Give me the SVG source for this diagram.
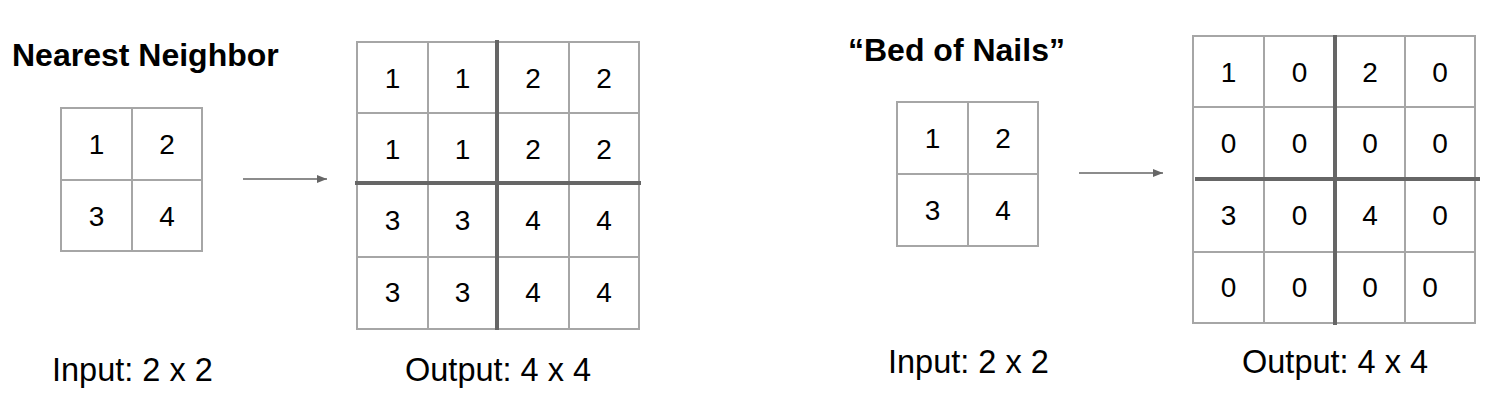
<svg xmlns="http://www.w3.org/2000/svg" width="1490" height="402" viewBox="0 0 1490 402">
<style>
.title{font-family:"Liberation Sans",Arial,sans-serif;font-weight:bold;font-size:32px;fill:#000}
.lbl{font-family:"Liberation Sans",Arial,sans-serif;font-size:32.5px;fill:#000}
.num{font-family:"Liberation Sans",Arial,sans-serif;font-size:28px;fill:#000;text-anchor:middle}
.cell{fill:#fff;stroke:#a6a6a6;stroke-width:2}
.thin{stroke:#a6a6a6;stroke-width:2}
.thick{stroke:#666;stroke-width:4}
.arrow{stroke:#666;stroke-width:1.6;fill:none}
</style>
<defs>
<marker id="ah" viewBox="0 0 10 8" refX="10" refY="4" markerWidth="10" markerHeight="8" markerUnits="userSpaceOnUse" orient="auto">
<path d="M0,0 L10,4 L0,8 Z" fill="#666"/>
</marker>
</defs>
<rect width="1490" height="402" fill="#fff"/>

<g id="title-nn"><text class="title" x="12" y="66">Nearest Neighbor</text></g>
<g id="title-bon"><text class="title" x="848" y="61">“Bed of Nails”</text></g>

<g id="input-nn">
<rect class="cell" x="61" y="108" width="141" height="143"/>
<line class="thin" x1="132" y1="108" x2="132" y2="251"/>
<line class="thin" x1="61" y1="180" x2="202" y2="180"/>
<text class="num" x="96.5" y="154">1</text><text class="num" x="167" y="154">2</text>
<text class="num" x="96.5" y="226">3</text><text class="num" x="167" y="226">4</text>
</g>

<g id="output-nn">
<rect class="cell" x="357" y="42" width="282" height="287"/>
<line class="thin" x1="428" y1="42" x2="428" y2="329"/>
<line class="thin" x1="569" y1="42" x2="569" y2="329"/>
<line class="thin" x1="357" y1="113" x2="639" y2="113"/>
<line class="thin" x1="357" y1="257" x2="639" y2="257"/>
<line class="thick" x1="497" y1="40" x2="497" y2="330"/>
<line class="thick" x1="355" y1="183" x2="641" y2="183"/>
<text class="num" x="392.5" y="88">1</text><text class="num" x="462.5" y="88">1</text><text class="num" x="533" y="88">2</text><text class="num" x="604" y="88">2</text>
<text class="num" x="392.5" y="159">1</text><text class="num" x="462.5" y="159">1</text><text class="num" x="533" y="159">2</text><text class="num" x="604" y="159">2</text>
<text class="num" x="392.5" y="230">3</text><text class="num" x="462.5" y="230">3</text><text class="num" x="533" y="230">4</text><text class="num" x="604" y="230">4</text>
<text class="num" x="392.5" y="302">3</text><text class="num" x="462.5" y="302">3</text><text class="num" x="533" y="302">4</text><text class="num" x="604" y="302">4</text>
</g>

<g id="input-bon">
<rect class="cell" x="897" y="102" width="141" height="144"/>
<line class="thin" x1="968" y1="102" x2="968" y2="246"/>
<line class="thin" x1="897" y1="174" x2="1038" y2="174"/>
<text class="num" x="932.5" y="148">1</text><text class="num" x="1003" y="148">2</text>
<text class="num" x="932.5" y="220">3</text><text class="num" x="1003" y="220">4</text>
</g>

<g id="output-bon">
<rect class="cell" x="1193" y="36" width="282" height="287"/>
<line class="thin" x1="1264" y1="36" x2="1264" y2="323"/>
<line class="thin" x1="1405" y1="36" x2="1405" y2="323"/>
<line class="thin" x1="1193" y1="107" x2="1475" y2="107"/>
<line class="thin" x1="1193" y1="252" x2="1475" y2="252"/>
<line class="thick" x1="1335" y1="35" x2="1335" y2="325"/>
<line class="thick" x1="1195" y1="179" x2="1480" y2="179"/>
<text class="num" x="1228.5" y="82">1</text><text class="num" x="1299.5" y="82">0</text><text class="num" x="1370" y="82">2</text><text class="num" x="1440" y="82">0</text>
<text class="num" x="1228.5" y="153">0</text><text class="num" x="1299.5" y="153">0</text><text class="num" x="1370" y="153">0</text><text class="num" x="1440" y="153">0</text>
<text class="num" x="1228.5" y="225">3</text><text class="num" x="1299.5" y="225">0</text><text class="num" x="1370" y="225">4</text><text class="num" x="1440" y="225">0</text>
<text class="num" x="1228.5" y="297">0</text><text class="num" x="1299.5" y="297">0</text><text class="num" x="1370" y="297">0</text><text class="num" x="1430" y="297">0</text>
</g>

<g id="connectors">
<line class="arrow" x1="243" y1="179" x2="327" y2="179" marker-end="url(#ah)"/>
<line class="arrow" x1="1079" y1="173" x2="1163" y2="173" marker-end="url(#ah)"/>
</g>

<g id="labels">
<text class="lbl" x="52" y="381">Input: 2 x 2</text>
<text class="lbl" x="405" y="381">Output: 4 x 4</text>
<text class="lbl" x="888" y="373">Input: 2 x 2</text>
<text class="lbl" x="1242" y="373">Output: 4 x 4</text>
</g>
</svg>
